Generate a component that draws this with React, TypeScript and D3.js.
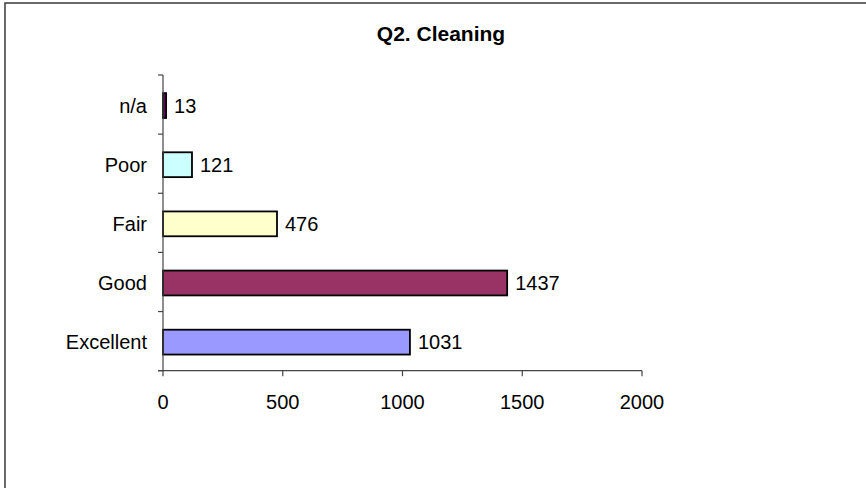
import React from "react";
import * as d3 from "d3";

const categories = ["Excellent", "Good", "Fair", "Poor", "n/a"];
const values = [1031, 1437, 476, 121, 13];
const colors = ["#9999FF", "#993366", "#FFFFCC", "#CCFFFF", "#660066"];
const xTicks = [0, 500, 1000, 1500, 2000];
const title = "Q2. Cleaning";

const W = 866;
const H = 488;
const FONT = "'Liberation Sans', Arial, sans-serif";

export default function App() {
  const x = d3.scaleLinear().domain([0, 2000]).range([163, 642]);
  const y = d3
    .scaleBand<string>()
    .domain([...categories].reverse())
    .range([75, 370.7])
    .paddingInner(0.58)
    .paddingOuter(0.29);
  const step = y.step();
  const bandTop = 75;
  const bandBottom = 370.7;
  const boundaries = d3.range(categories.length + 1).map((i) => bandTop + i * ((bandBottom - bandTop) / categories.length));

  return (
    <svg
      width={W}
      height={H}
      style={{ position: "absolute", left: 0, top: 0, background: "#fff" }}
      fontFamily={FONT}
    >
      <rect x={5} y={3} width={900} height={520} fill="#fff" stroke="#3a3a3a" strokeWidth={1.5} />
      <text x={441} y={41} textAnchor="middle" fontSize={21} fontWeight="bold" fill="#000">
        {title}
      </text>
      {/* bars */}
      {categories.map((c, i) => (
        <rect
          key={c}
          x={x(0)}
          y={(y(c) as number) + 1}
          width={x(values[i]) - x(0)}
          height={y.bandwidth()}
          fill={colors[i]}
          stroke="#000"
          strokeWidth={1.8}
        />
      ))}
      {/* value labels */}
      {categories.map((c, i) => (
        <text
          key={"v" + c}
          x={x(values[i]) + 8}
          y={(y(c) as number) + 1 + y.bandwidth() / 2}
          dy="0.35em"
          fontSize={20}
          fill="#000"
        >
          {values[i]}
        </text>
      ))}
      {/* y axis */}
      <line x1={x(0)} x2={x(0)} y1={bandTop} y2={bandBottom} stroke="#444" strokeWidth={1.2} />
      {boundaries.map((b, i) => (
        <line key={"yt" + i} x1={x(0) - 5} x2={x(0)} y1={b} y2={b} stroke="#444" strokeWidth={1.2} />
      ))}
      {categories.map((c) => (
        <text
          key={"cl" + c}
          x={147}
          y={(y(c) as number) + 1 + y.bandwidth() / 2}
          dy="0.35em"
          textAnchor="end"
          fontSize={20}
          fill="#000"
        >
          {c}
        </text>
      ))}
      {/* x axis */}
      <line x1={x(0) - 5} x2={x(2000)} y1={bandBottom} y2={bandBottom} stroke="#444" strokeWidth={1.2} />
      {xTicks.map((t) => (
        <g key={"xt" + t}>
          <line x1={x(t)} x2={x(t)} y1={bandBottom} y2={bandBottom + 5.5} stroke="#444" strokeWidth={1.2} />
          <text x={x(t)} y={409} textAnchor="middle" fontSize={20} fill="#000">
            {t}
          </text>
        </g>
      ))}
    </svg>
  );
}
